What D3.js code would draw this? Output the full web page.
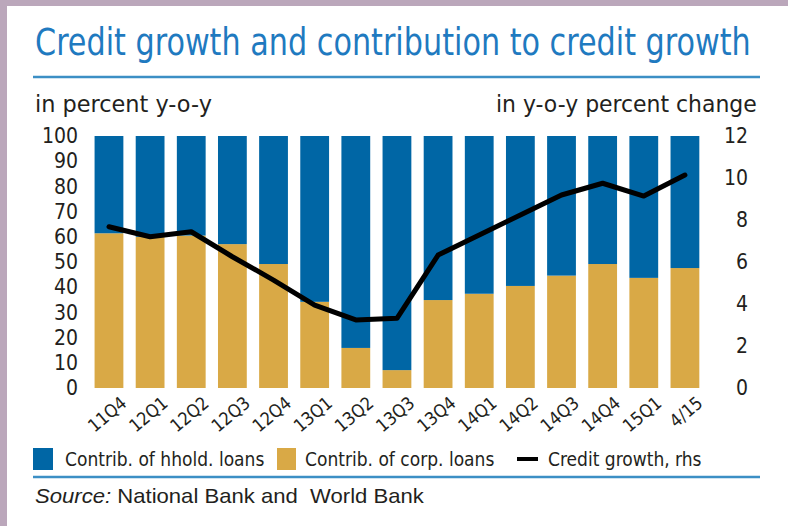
<!DOCTYPE html>
<html>
<head>
<meta charset="utf-8">
<script src="https://cdn.jsdelivr.net/npm/d3@7"></script>
<style>
  body { margin: 0; padding: 0; background: #fff; }
  svg { display: block; }
  .narrow { font-family: "Liberation Sans Narrow", "DejaVu Sans Condensed", "Arial Narrow", sans-serif; }
</style>
</head>
<body>
<svg id="chart" width="788" height="526"></svg>
<script>
/* chart data */

var quarters = ["11Q4", "12Q1", "12Q2", "12Q3", "12Q4", "13Q1", "13Q2", "13Q3",
                "13Q4", "14Q1", "14Q2", "14Q3", "14Q4", "15Q1", "4/15"];

var corpLoans  = [61.4, 60.0, 60.5, 57.1, 49.2, 34.2, 15.9, 7.1,
                  34.9, 37.4, 40.5, 44.6, 49.2, 43.7, 47.6];

var hholdLoans = [38.6, 40.0, 39.5, 42.9, 50.8, 65.8, 84.1, 92.9,
                  65.1, 62.6, 59.5, 55.4, 50.8, 56.3, 52.4];

var creditGrowth = [7.68, 7.2, 7.44, 6.25, 5.14, 3.95, 3.24, 3.32,
                    6.33, 7.29, 8.24, 9.19, 9.75, 9.14, 10.14];

var leftTicks  = [0, 10, 20, 30, 40, 50, 60, 70, 80, 90, 100];
var rightTicks = [0, 2, 4, 6, 8, 10, 12];

/* colours */
var blue = "#0066a5";
var gold = "#d9a946";
var ruleBlue = "#3c8fc5";
var titleBlue = "#1f7ac0";
var textCol = "#231f20";

var svg = d3.select("#chart");

// purple frame + white panel
svg.append("rect").attr("width", 788).attr("height", 526).attr("fill", "#bba7bb");
svg.append("rect").attr("x", 7).attr("y", 6).attr("width", 781).attr("height", 520).attr("fill", "#fff");

// squeeze a text horizontally so it spans the given width
function fitWidth(sel, x0, y0, w) {
  var natural = sel.node().getComputedTextLength();
  sel.attr("x", 0).attr("y", 0)
    .attr("transform", "translate(" + x0 + "," + y0 + ") scale(" + (w / natural) + ",1)");
}

var title = svg.append("text")
  .attr("class", "narrow")
  .attr("font-size", "37px")
  .attr("fill", titleBlue)
  .text("Credit growth and contribution to credit growth");
fitWidth(title, 35, 55, 716);

svg.append("line")
  .attr("x1", 33).attr("x2", 760).attr("y1", 77).attr("y2", 77)
  .attr("stroke", ruleBlue).attr("stroke-width", 2.5);

var lhs = svg.append("text")
  .attr("class", "narrow")
  .attr("font-size", "23px").attr("fill", textCol)
  .text("in percent y-o-y");
fitWidth(lhs, 35, 112, 177);

var rhs = svg.append("text")
  .attr("class", "narrow")
  .attr("font-size", "23px").attr("fill", textCol)
  .text("in y-o-y percent change");
fitWidth(rhs, 496, 112, 261);

/* scales */
let x = d3.scaleBand()
  .domain(quarters)
  .range([88.4, 705.5])
  .paddingInner(0.3)
  .paddingOuter(0.15);

let yLeft = d3.scaleLinear().domain([0, 100]).range([388, 136]);
let yRight = d3.scaleLinear().domain([0, 12]).range([388, 136]);

// stacked bars
var rows = quarters.map(function (q, i) {
  return { q: q, corp: corpLoans[i], hhold: hholdLoans[i] };
});
var stack = d3.stack().keys(["corp", "hhold"])(rows);
var colors = { corp: gold, hhold: blue };

svg.append("g")
  .selectAll("g")
  .data(stack)
  .enter().append("g")
  .attr("fill", d => colors[d.key])
  .selectAll("rect")
  .data(d => d)
  .enter().append("rect")
  .attr("x", d => x(d.data.q))
  .attr("width", x.bandwidth())
  .attr("y", d => yLeft(d[1]))
  .attr("height", d => yLeft(d[0]) - yLeft(d[1]));

// credit growth line
var line = d3.line()
  .x((d, i) => x(quarters[i]) + x.bandwidth() / 2)
  .y(d => yRight(d));

svg.append("path")
  .datum(creditGrowth)
  .attr("d", line)
  .attr("fill", "none")
  .attr("stroke", "#000")
  .attr("stroke-width", 5)
  .attr("stroke-linejoin", "round")
  .attr("stroke-linecap", "round");

/* axes */
var leftAxis = svg.append("g")
  .attr("class", "narrow")
  .attr("transform", "translate(78,0)")
  .call(d3.axisLeft(yLeft).tickValues(leftTicks).tickSize(0).tickPadding(0));

var rightAxis = svg.append("g")
  .attr("class", "narrow")
  .attr("transform", "translate(748,0)")
  .call(d3.axisRight(yRight).tickValues(rightTicks).tickSize(0).tickPadding(0));
rightAxis.selectAll("text").attr("text-anchor", "end");

var bottomAxis = svg.append("g")
  .attr("class", "narrow")
  .attr("transform", "translate(0,388)")
  .call(d3.axisBottom(x).tickSize(0).tickPadding(0));

[leftAxis, rightAxis, bottomAxis].forEach(function (g) {
  g.attr("font-family", null);
  g.select(".domain").remove();
  g.selectAll("text")
    .attr("fill", textCol)
    .attr("font-size", "21px");
});

bottomAxis.selectAll("text")
  .attr("font-size", "18px")
  .attr("text-anchor", "end")
  .attr("dy", null)
  .attr("y", 0)
  .attr("transform", "translate(19,17) rotate(-40)");

/* legend */
var legend = svg.append("g").attr("class", "narrow");

legend.append("rect").attr("x", 33).attr("y", 448).attr("width", 20).attr("height", 22).attr("fill", blue);
legend.append("text").attr("x", 65).attr("y", 466).attr("font-size", "19px").attr("fill", textCol)
  .text("Contrib. of hhold. loans");

legend.append("rect").attr("x", 277).attr("y", 448).attr("width", 19).attr("height", 22).attr("fill", gold);
legend.append("text").attr("x", 305).attr("y", 466).attr("font-size", "19px").attr("fill", textCol)
  .text("Contrib. of corp. loans");

legend.append("line").attr("x1", 517).attr("x2", 538).attr("y1", 459).attr("y2", 459)
  .attr("stroke", "#000").attr("stroke-width", 4);
legend.append("text").attr("x", 548).attr("y", 466).attr("font-size", "19px").attr("fill", textCol)
  .text("Credit growth, rhs");

svg.append("line")
  .attr("x1", 33).attr("x2", 760).attr("y1", 477).attr("y2", 477)
  .attr("stroke", ruleBlue).attr("stroke-width", 2.5);

/* source */
var src = svg.append("text")
  .attr("font-family", "'Liberation Sans', Arial, sans-serif")
  .attr("font-size", "21px")
  .attr("fill", textCol)
  .style("white-space", "pre");
src.append("tspan").attr("font-style", "italic").text("Source:");
src.append("tspan").text(" National Bank and  World Bank");
fitWidth(src, 35, 503, 389);
</script>
</body>
</html>
